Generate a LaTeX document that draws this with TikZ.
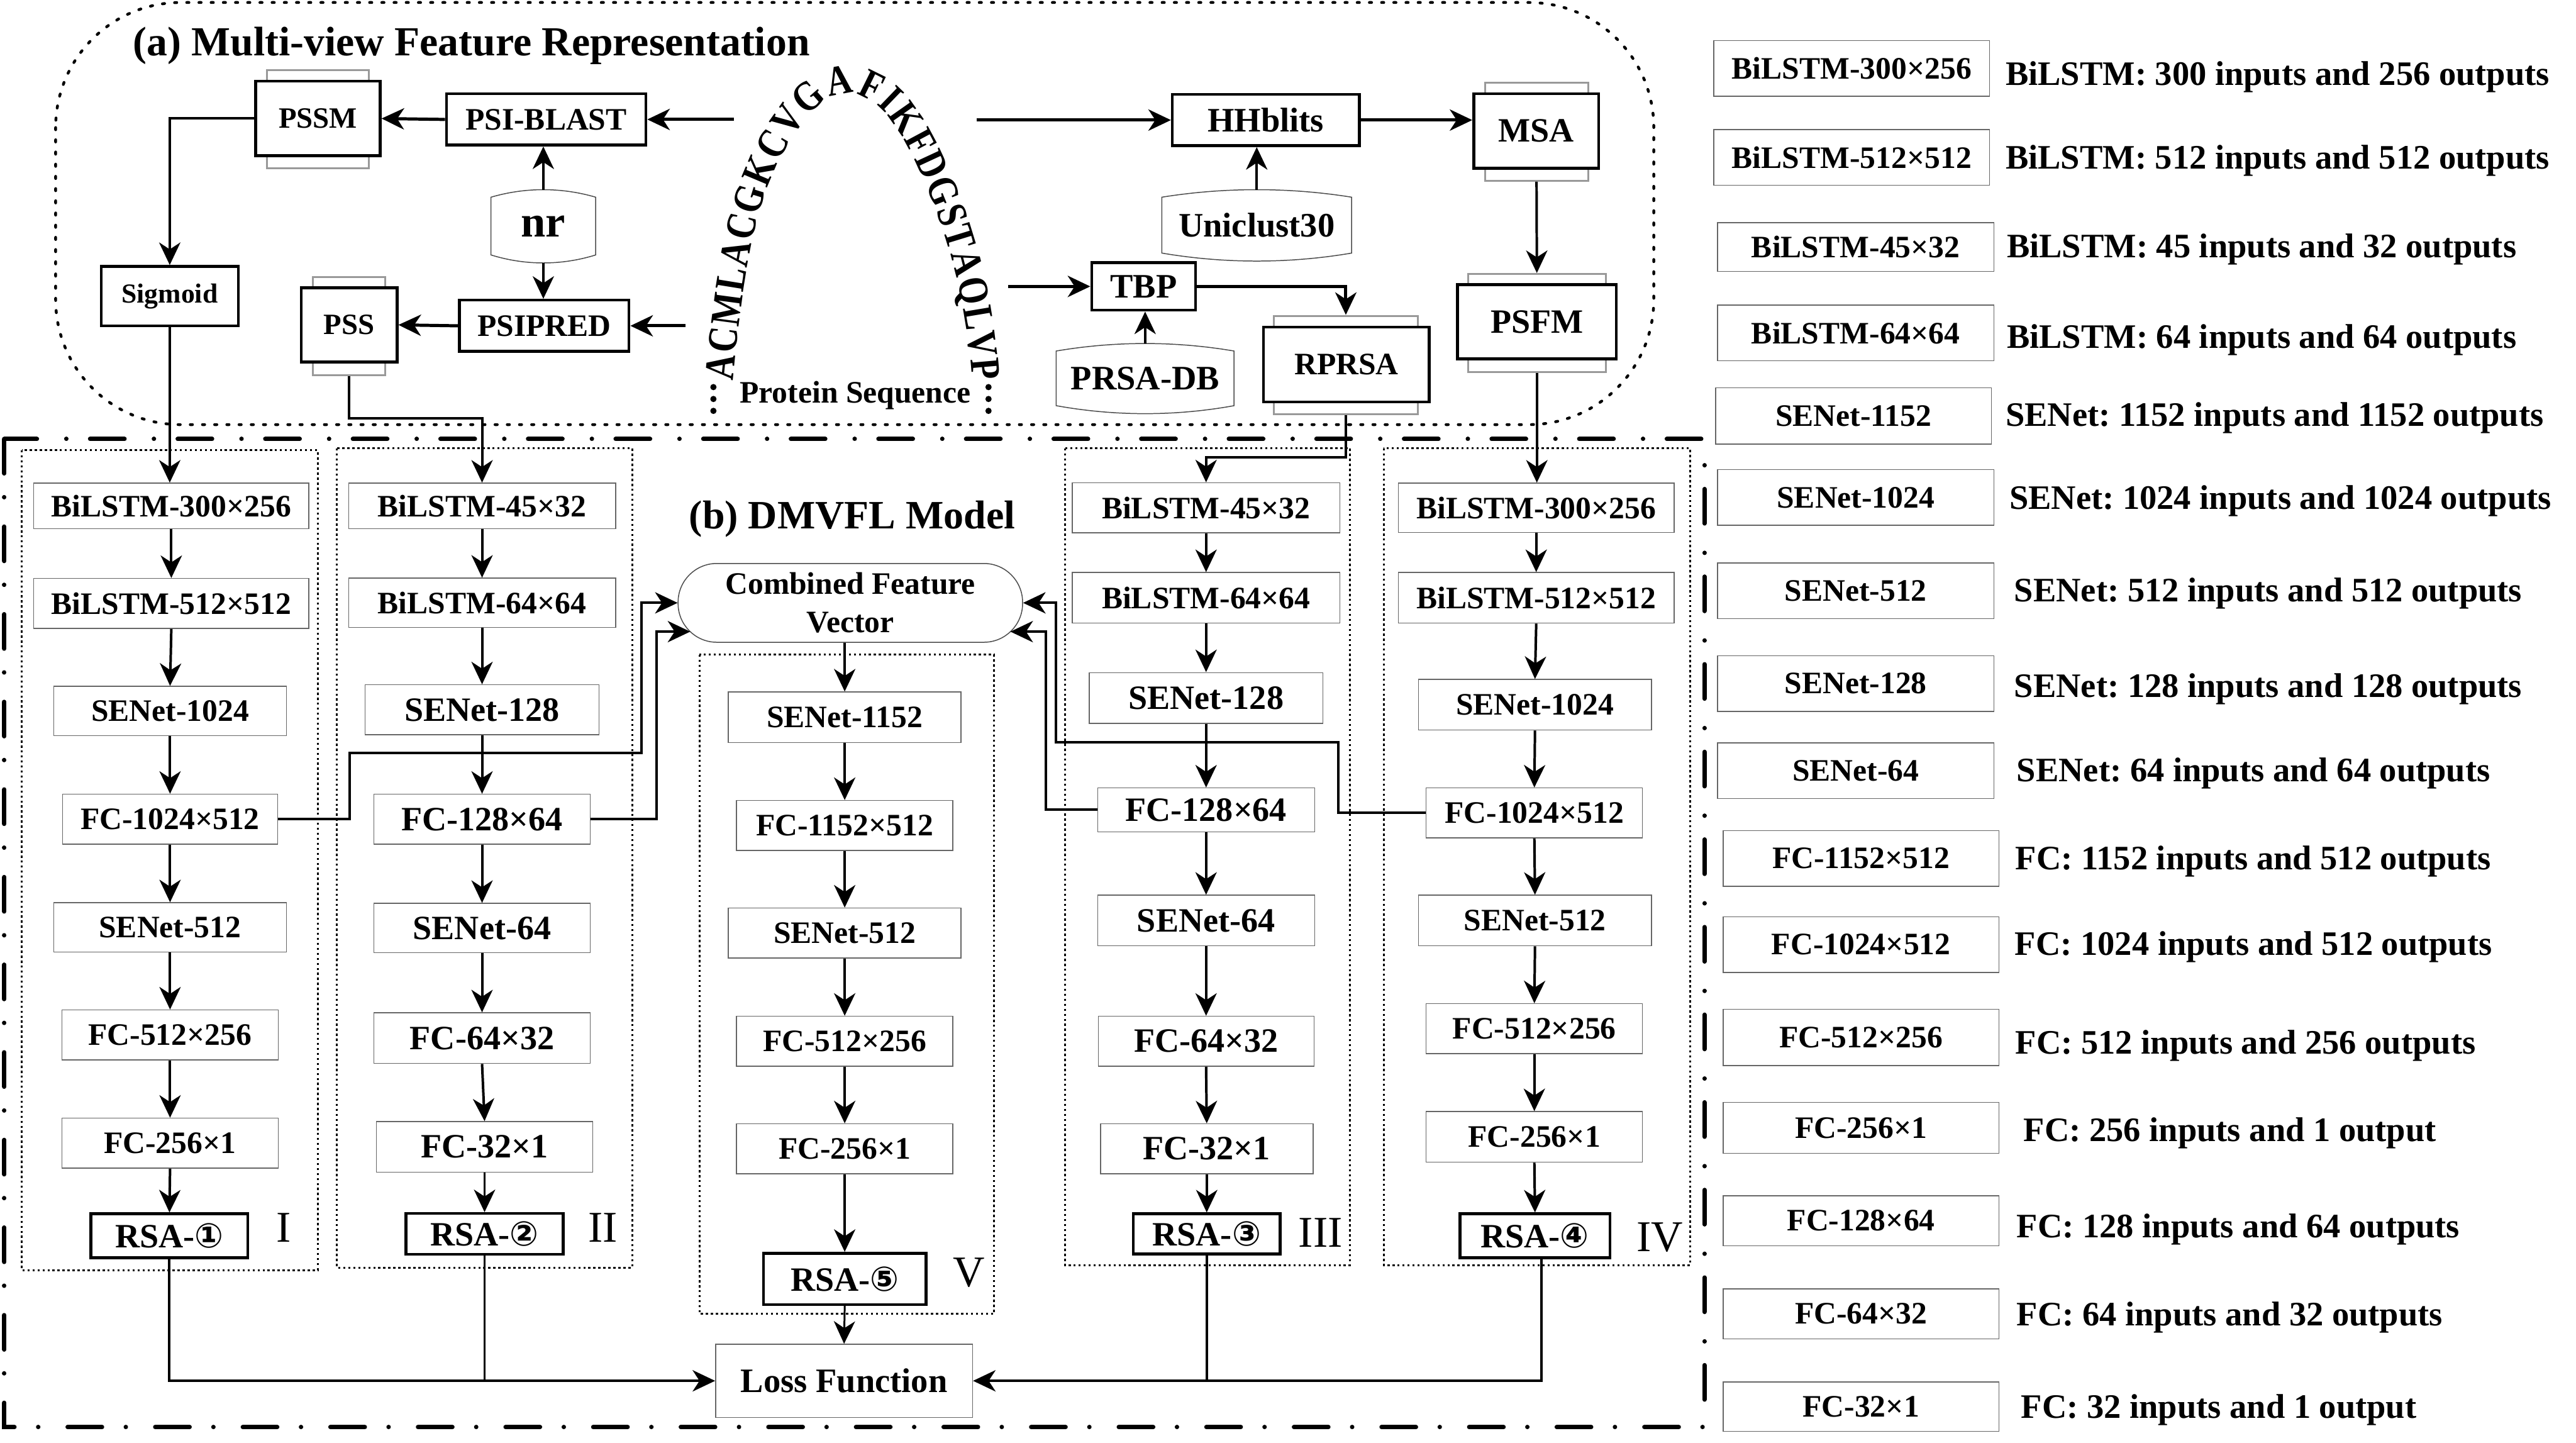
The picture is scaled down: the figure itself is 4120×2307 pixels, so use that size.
\documentclass[tikz,border=0pt]{standalone}
\usepackage{fontspec}
\setmainfont{Liberation Serif}
\newfontfamily\circfont{DejaVu Sans}
\newfontfamily\seqfont{Liberation Serif}[FakeStretch=0.83]
\frenchspacing
\usetikzlibrary{arrows.meta,decorations.text,calc}
\newcommand\fsz[1]{\fontsize{#1}{#1}\selectfont}
\newcommand\drawcyl[2]{%
\draw[cyl] ($(#1.north west)+(0,12)$) .. controls ($(#1.north west)+(#2,-4)$) and ($(#1.north east)+(-#2,-4)$) .. ($(#1.north east)+(0,12)$) -- ($(#1.south east)+(0,-13)$) .. controls ($(#1.south east)+(-#2,4)$) and ($(#1.south west)+(#2,4)$) .. ($(#1.south west)+(0,-13)$) -- cycle;}
\begin{document}
\begin{tikzpicture}[x=0.1mm,y=-0.1mm,
  every node/.style={inner sep=0pt, font=\bfseries},
  sz/.style 2 args={minimum width=#1*0.1mm, minimum height=#2*0.1mm},
  f44/.style={font=\bfseries\fsz{12.5pt}},
  f47/.style={font=\bfseries\fsz{13.4pt}},
  f50/.style={font=\bfseries\fsz{14.2pt}},
  f54/.style={font=\bfseries\fsz{15.5pt}},
  f55/.style={font=\bfseries\fsz{15.6pt}},
  roman/.style={font=\mdseries\fsz{20pt}},
  abox/.style={draw, line width=0.45mm, fill=white},
  gback/.style={draw=black!40, line width=0.3mm, fill=white},
  bbox/.style={draw=black!60, line width=0.15mm, fill=white},
  rsabox/.style={draw, line width=0.45mm, fill=white},
  colbox/.style={line width=0.3mm, dash pattern=on 0.35mm off 0.45mm},
  arr/.style={line width=0.4mm, -{Stealth[length=3.6mm,width=3.4mm,inset=1.1mm]}},
  ln/.style={line width=0.4mm},
  cyl/.style={draw=black!70, line width=0.15mm},
]
\useasboundingbox (0,0) rectangle (4120,2307);
\fill[white] (0,0) rectangle (4120,2307);

% ---------------- (a) ----------------
\draw[line width=0.45mm, dash pattern=on 0.35mm off 1.6mm, line cap=round, rounded corners=20mm] (89,4) rectangle (2645,679);
\node[font=\bfseries\fsz{18.8pt}, anchor=base] (ta) at (754,89) {(a) Multi-view Feature Representation};

\node[gback, sz={163}{157}] (pssmg) at (508.5,190.5) {};
\node[abox, sz={199}{119}, f47] (pssm) at (508.5,189.5) {PSSM};
\node[abox, sz={319}{82}, f50] (psib) at (873.5,191) {PSI-BLAST};
\node[abox, sz={219}{95}, f44] (sig) at (271.5,473.5) {Sigmoid};
\node[gback, sz={116}{157}] (pssg) at (558,521.5) {};
\node[abox, sz={153}{119}, f47] (pss) at (558.5,519.5) {PSS};
\node[abox, sz={271}{82}, f50] (psip) at (870.5,521) {PSIPRED};
\node[sz={166}{116}, font=\bfseries\fsz{20.2pt}] (nr) at (869,362) {nr};
\drawcyl{nr}{55}

\node[abox, sz={299}{82}, f55] (hhb) at (2024.5,192) {HHblits};
\node[sz={302}{113}, f55] (uni) at (2010,360.5) {Uniclust30};
\drawcyl{uni}{100}
\node[gback, sz={165}{157}] (msag) at (2457.5,210.5) {};
\node[abox, sz={200}{119}, f54] (msa) at (2457,209.5) {MSA};
\node[gback, sz={220}{157}] (psfmg) at (2458,516.5) {};
\node[abox, sz={254}{119}, f54] (psfm) at (2458,514.5) {PSFM};
\node[abox, sz={166}{76}, f55] (tbp) at (1829,458) {TBP};
\node[sz={283}{111}, f55] (prsa) at (1831.5,605.5) {PRSA-DB};
\drawcyl{prsa}{94}
\node[gback, sz={231}{157}] (rprsag) at (2152.5,583.5) {};
\node[abox, sz={265}{120}, f50] (rprsa) at (2153.5,583) {RPRSA};

% protein sequence arch
\path[decorate, decoration={text along path, text format delimiters={|}{|},
  text={|\seqfont\bfseries\fsz{19.2pt}|ACMLACGKCVGAFIKFDGSTAQLVP}, text align=fit to path}]
  (1172,609) .. controls (1185,470) and (1205,330) .. (1250,250)
  .. controls (1280,195) and (1310,155) .. (1350,150)
  .. controls (1395,146) and (1430,190) .. (1460,250)
  .. controls (1510,350) and (1545,470) .. (1555,609);
\foreach \yy in {619,638,657}{
  \fill (1141,\yy) circle[radius=5];
  \fill (1581,\yy) circle[radius=5];
}
\node[f50, anchor=base] (pseq) at (1368,644) {Protein Sequence};

\coordinate (sqL1) at (1174,191);
\coordinate (sqL2) at (1096,521);
\coordinate (sqR1) at (1562,192);
\coordinate (sqR2) at (1612,458);

\draw[arr, line width=0.5mm] (sqL1) -- (psib.east);
\draw[arr, line width=0.5mm] (psib.west) -- (pssm.east);
\draw[arr] (pssm.west) -| (sig.north);
\draw[arr] (nr.north) -- (nr.north |- psib.south);
\draw[arr] (nr.south) -- (nr.south |- psip.north);
\draw[arr, line width=0.5mm] (sqL2) -- (psip.east);
\draw[arr, line width=0.5mm] (psip.west) -- (pss.east);
\draw[arr, line width=0.5mm] (sqR1) -- (hhb.west);
\draw[arr, line width=0.5mm] (hhb.east) -- (hhb.east -| msa.west);
\draw[arr] (uni.north) -- (uni.north |- hhb.south);
\draw[arr] (msag.south) -- (psfmg.north);
\draw[arr, line width=0.5mm] (sqR2) -- (tbp.west);
\draw[arr] (prsa.north) -- (prsa.north |- tbp.south);
\draw[arr, line width=0.5mm] (tbp.east) -| (rprsag.north);

% ---------------- (b) ----------------
\draw[line width=0.7mm, line cap=round, dash pattern=on 5.5mm off 3.8mm on 0.01mm off 4.7mm] (7,702) rectangle (2726,2282);
\node[font=\bfseries\fsz{18.3pt}, anchor=base] (tb) at (1363,845) {(b) DMVFL Model};

\draw[colbox] (35,720) rectangle (508,2031);
\draw[colbox] (539,717) rectangle (1011,2027);
\draw[colbox] (1703,717) rectangle (2159,2023);
\draw[colbox] (2213,717) rectangle (2703,2023);
\draw[colbox] (1119,1047) rectangle (1590,2101);

% column I
\node[bbox, sz={440}{73}, f50] (c1a) at (274,809) {BiLSTM-300×256};
\node[bbox, sz={440}{80}, f50] (c1b) at (274,965) {BiLSTM-512×512};
\node[bbox, sz={372}{79}, f50] (c1c) at (272,1137) {SENet-1024};
\node[bbox, sz={344}{80}, f50] (c1d) at (272,1310) {FC-1024×512};
\node[bbox, sz={372}{79}, f50] (c1e) at (272,1483) {SENet-512};
\node[bbox, sz={346}{80}, f50] (c1f) at (272,1655) {FC-512×256};
\node[bbox, sz={346}{80}, f50] (c1g) at (272,1828) {FC-256×1};
\node[rsabox, sz={251}{70}, f54] (c1h) at (271,1976) {RSA-{\circfont ①}};
\node[roman] (r1) at (454,1963) {I};

% column II
\node[bbox, sz={427}{73}, f50] (c2a) at (771,809) {BiLSTM-45×32};
\node[bbox, sz={427}{79}, f50] (c2b) at (771,964) {BiLSTM-64×64};
\node[bbox, sz={374}{80}, f54] (c2c) at (771,1135) {SENet-128};
\node[bbox, sz={346}{80}, f54] (c2d) at (771,1310) {FC-128×64};
\node[bbox, sz={346}{79}, f54] (c2e) at (771,1484) {SENet-64};
\node[bbox, sz={346}{81}, f54] (c2f) at (771,1660) {FC-64×32};
\node[bbox, sz={346}{81}, f54] (c2g) at (775,1834) {FC-32×1};
\node[rsabox, sz={251}{65}, f54] (c2h) at (775,1973) {RSA-{\circfont ②}};
\node[roman] (r2) at (964,1963) {II};

% column III
\node[bbox, sz={428}{80}, f50] (c3a) at (1929,812) {BiLSTM-45×32};
\node[bbox, sz={428}{81}, f50] (c3b) at (1929,956) {BiLSTM-64×64};
\node[bbox, sz={374}{81}, f54] (c3c) at (1929,1116) {SENet-128};
\node[bbox, sz={347}{70}, f54] (c3d) at (1929,1295) {FC-128×64};
\node[bbox, sz={347}{81}, f54] (c3e) at (1929,1472) {SENet-64};
\node[bbox, sz={345}{80}, f54] (c3f) at (1929,1665) {FC-64×32};
\node[bbox, sz={340}{80}, f54] (c3g) at (1930,1837) {FC-32×1};
\node[rsabox, sz={235}{64}, f54] (c3h) at (1930,1973) {RSA-{\circfont ③}};
\node[roman] (r3) at (2112,1971) {III};

% column IV
\node[bbox, sz={441}{79}, f50] (c4a) at (2457,812) {BiLSTM-300×256};
\node[bbox, sz={441}{81}, f50] (c4b) at (2457,956) {BiLSTM-512×512};
\node[bbox, sz={373}{81}, f50] (c4c) at (2455,1127) {SENet-1024};
\node[bbox, sz={346}{80}, f50] (c4d) at (2454,1300) {FC-1024×512};
\node[bbox, sz={373}{81}, f50] (c4e) at (2455,1472) {SENet-512};
\node[bbox, sz={346}{80}, f50] (c4f) at (2454,1645) {FC-512×256};
\node[bbox, sz={346}{81}, f50] (c4g) at (2454,1818) {FC-256×1};
\node[rsabox, sz={240}{70}, f54] (c4h) at (2455,1976) {RSA-{\circfont ④}};
\node[roman] (r4) at (2655,1979) {IV};

% column V
\node[draw=black!70, line width=0.15mm, fill=white, rounded corners=6.2mm, sz={551}{126}, align=center,
  font=\bfseries\fontsize{14.2pt}{17.4pt}\selectfont] (cfv) at (1360,964) {Combined Feature\\Vector};
\node[bbox, sz={372}{81}, f50] (c5a) at (1351,1147) {SENet-1152};
\node[bbox, sz={346}{80}, f50] (c5b) at (1351,1320) {FC-1152×512};
\node[bbox, sz={372}{80}, f50] (c5c) at (1351,1492) {SENet-512};
\node[bbox, sz={346}{80}, f50] (c5d) at (1351,1665) {FC-512×256};
\node[bbox, sz={346}{80}, f50] (c5e) at (1351,1837) {FC-256×1};
\node[rsabox, sz={260}{82}, f54] (c5f) at (1351,2045) {RSA-{\circfont ⑤}};
\node[roman] (r5) at (1550,2035) {V};
\node[bbox, sz={411}{117}, f55] (loss) at (1350,2208) {Loss Function};

% column arrows
\foreach \c in {1,2,3,4}{
  \foreach \a/\b in {a/b,b/c,c/d,d/e,e/f,f/g,g/h}{
    \draw[arr] (c\c\a.south) -- (c\c\b.north);
  }
}
\foreach \a/\b in {a/b,b/c,c/d,d/e,e/f}{
  \draw[arr] (c5\a.south) -- (c5\b.north);
}
\draw[arr] (cfv.south -| c5a.north) -- (c5a.north);

% inputs from (a)
\draw[arr] (sig.south) -- (sig.south |- c1a.north);
\draw[arr] (pssg.south) -- ++(0,67) -| (c2a.north);
\draw[arr] (rprsag.south) -- ++(0,68) -| (c3a.north);
\draw[arr] (psfmg.south) -- (psfmg.south |- c4a.north);

% to combined feature vector
\coordinate (cfvL) at (1104,1010);
\coordinate (cfvR) at (1616,1010);
\draw[arr] (c1d.east) -| (559,1204) -| (1026,964) -- (cfv.west);
\draw[arr] (c2d.east) -| (1050,1010) -- (cfvL);
\draw[arr] (c3d.west) -| (1673,1010) -- (cfvR);
\draw[arr] (c4d.west) -| (2140,1187) -| (1689,964) -- (cfv.east);

% to loss
\draw[arr] (c1h.south) |- (loss.west);
\draw[ln] (c2h.south) -- (c2h.south |- loss.west);
\draw[ln] (c3h.south) -- (c3h.south |- loss.east);
\draw[arr] ($(c4h.south)+(10,0)$) |- (loss.east);
\draw[arr, line width=0.3mm] (c5f.south) -- (loss.north);

% ---------------- legend ----------------
\foreach \i/\x/\y/\w/\h/\t/\dx/\dy/\d in {
 1/2961.5/109.5/441/89/BiLSTM-300×256/3207/136/BiLSTM: 300 inputs and 256 outputs,
 2/2961.5/251.5/441/89/BiLSTM-512×512/3207/270/BiLSTM: 512 inputs and 512 outputs,
 3/2968/395/442/78/BiLSTM-45×32/3209/412/BiLSTM: 45 inputs and 32 outputs,
 4/2968/532.5/442/89/BiLSTM-64×64/3209/557/BiLSTM: 64 inputs and 64 outputs,
 5/2964.5/665/441/90/SENet-1152/3207/681/SENet: 1152 inputs and 1152 outputs,
 6/2968/795.5/442/89/SENet-1024/3213/814/SENet: 1024 inputs and 1024 outputs,
 7/2968/944.5/442/89/SENet-512/3221/962/SENet: 512 inputs and 512 outputs,
 8/2968/1093/442/89/SENet-128/3221/1115/SENet: 128 inputs and 128 outputs,
 9/2968/1232.5/442/89/SENet-64/3225/1250/SENet: 64 inputs and 64 outputs,
 10/2976.5/1372.5/441/89/FC-1152×512/3223/1391/FC: 1152 inputs and 512 outputs,
 11/2976.5/1510.5/441/89/FC-1024×512/3222/1527/FC: 1024 inputs and 512 outputs,
 12/2976.5/1659/441/90/FC-512×256/3223/1685/FC: 512 inputs and 256 outputs,
 13/2976.5/1803.5/441/81/FC-256×1/3236/1825/FC: 256 inputs and 1 output,
 14/2976.5/1952/441/80/FC-128×64/3225/1979/FC: 128 inputs and 64 outputs,
 15/2976.5/2101/441/80/FC-64×32/3225/2120/FC: 64 inputs and 32 outputs,
 16/2976.5/2249.5/441/79/FC-32×1/3232/2268/FC: 32 inputs and 1 output}{
  \node[bbox, sz={\w}{\h}, f50] (lg\i) at (\x,\y) {\t};
  \node[f55, anchor=base west] (ld\i) at (\dx,\dy) {\d};
}
\end{tikzpicture}
\end{document}
